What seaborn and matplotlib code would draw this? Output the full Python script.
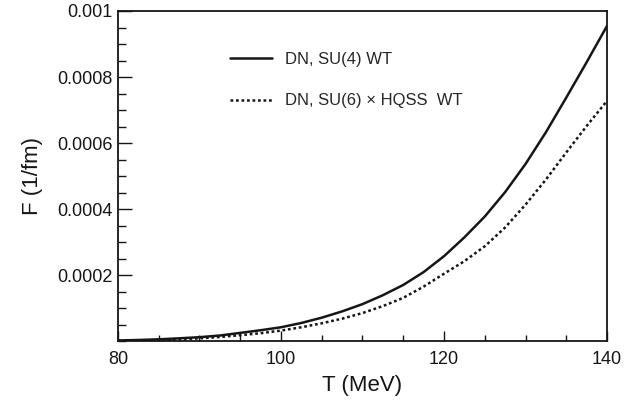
import numpy as np
import pandas as pd
import matplotlib
matplotlib.use('Agg')
import matplotlib.pyplot as plt
import seaborn as sns
from matplotlib.ticker import MultipleLocator

# Data
temps = [80, 82.5, 85, 87.5, 90, 92.5, 95, 97.5, 100, 102.5, 105, 107.5, 110,
         112.5, 115, 117.5, 120, 122.5, 125, 127.5, 130, 132.5, 135, 137.5, 140]
f_su4 = [0.000003, 0.0000045, 0.0000065, 0.0000095, 0.000013, 0.000018, 0.000026,
         0.000034, 0.000043, 0.000056, 0.000072, 0.000091, 0.000113, 0.000140,
         0.000171, 0.000210, 0.000258, 0.000315, 0.000378, 0.000452, 0.000537,
         0.000633, 0.000738, 0.000845, 0.000955]
f_su6 = [0.000002, 0.000003, 0.0000045, 0.0000065, 0.0000095, 0.0000135, 0.000019,
         0.000025, 0.000033, 0.000043, 0.000055, 0.000069, 0.000086, 0.000107,
         0.000132, 0.000166, 0.000205, 0.000243, 0.000288, 0.000345, 0.000414,
         0.000490, 0.000572, 0.000652, 0.000728]
labels = ['DN, SU(4) WT', 'DN, SU(6) \u00d7 HQSS  WT']
ytick_vals = [0.0002, 0.0004, 0.0006, 0.0008, 0.001]
ytick_labels = ['0.0002', '0.0004', '0.0006', '0.0008', '0.001']
xtick_vals = [80, 100, 120, 140]

sns.set_theme(style='ticks')
plt.rcParams['font.family'] = ['Liberation Sans', 'DejaVu Sans']

df = pd.DataFrame({'T': temps, 'su4': f_su4, 'su6': f_su6})

fig = plt.figure(figsize=(6.41, 4.07), dpi=100)
ax = fig.add_axes([0.184, 0.161, 0.763, 0.812])

sns.lineplot(data=df, x='T', y='su4', ax=ax, color='#161616', linewidth=1.8,
             label=labels[0])
sns.lineplot(data=df, x='T', y='su6', ax=ax, color='#161616', linewidth=1.8,
             linestyle=(0, (1.1, 1.1)), label=labels[1])

ax.set_xlim(80, 140)
ax.set_ylim(0, 0.001)
ax.set_xticks(xtick_vals)
ax.set_xticklabels([str(v) for v in xtick_vals])
ax.set_yticks(ytick_vals)
ax.set_yticklabels(ytick_labels)
ax.xaxis.set_minor_locator(MultipleLocator(5))
ax.yaxis.set_minor_locator(MultipleLocator(0.00005))

ax.tick_params(axis='both', which='both', direction='in', labelsize=13, colors='#161616',
               top=False, right=False)
ax.tick_params(axis='x', which='major', length=7.5, width=1, pad=7)
ax.tick_params(axis='x', which='minor', length=4.5, width=1)
ax.tick_params(axis='y', which='major', length=10, width=1, pad=4)
ax.tick_params(axis='y', which='minor', length=5.5, width=1)

for s in ax.spines.values():
    s.set_linewidth(1.3)
    s.set_color('#161616')

ax.set_xlabel('T (MeV)', fontsize=16, color='#161616', labelpad=5)
ax.set_ylabel('F (1/fm)', fontsize=16, color='#161616', labelpad=10)

ax.legend(loc='upper left', bbox_to_anchor=(0.229, 0.876), frameon=False,
          fontsize=12, handlelength=2.5, handletextpad=0.78, labelspacing=1.59,
          borderaxespad=0, borderpad=0)

fig.savefig('out.png', dpi=100)
